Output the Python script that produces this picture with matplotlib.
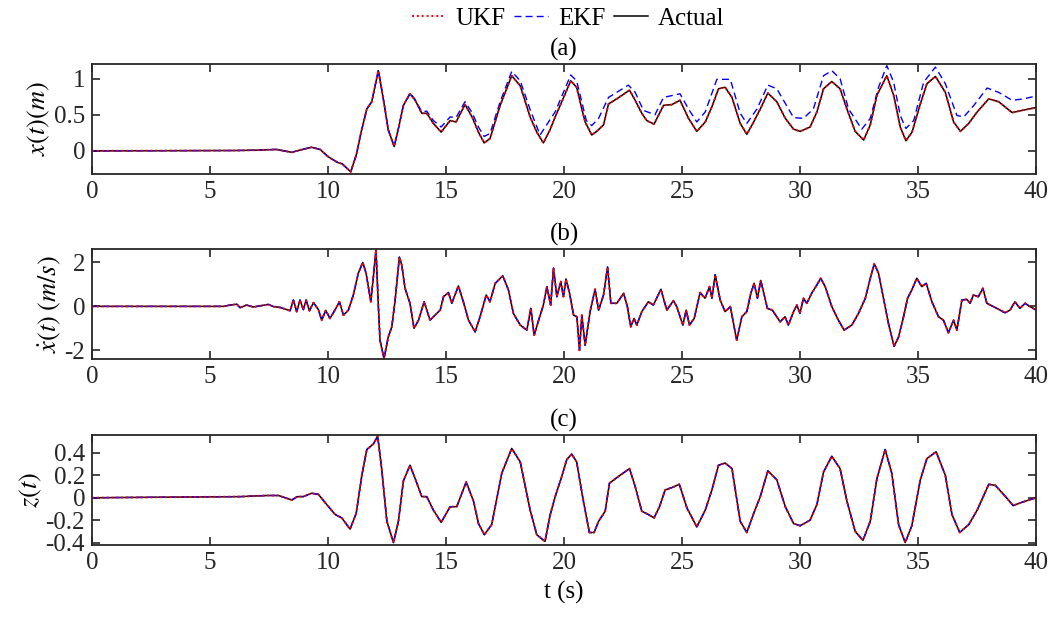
import numpy as np
import matplotlib
matplotlib.use("Agg")
import matplotlib.pyplot as plt

# ---- data ----
# (a) displacement x(t): actual / UKF follow the same trace
t_x = [0, 6.1, 7.0, 7.8, 8.46, 8.8, 9.3, 9.66, 10.0, 10.4, 10.6, 10.96, 11.2, 11.4,
       11.64, 11.85, 12.13, 12.34, 12.55, 12.8, 12.98, 13.19, 13.47, 13.69, 13.97,
       14.18, 14.46, 14.79, 15.17, 15.42, 15.8, 16.1, 16.37, 16.61, 16.86, 17.29,
       17.78, 18.14, 18.56, 18.84, 19.12, 19.4, 19.62, 19.9, 20.28, 20.53, 20.75,
       20.89, 21.17, 21.38, 21.67, 21.88, 22.23, 22.77, 23.01, 23.29, 23.5, 23.81,
       24.21, 24.56, 24.91, 25.27, 25.62, 25.98, 26.26, 26.54, 26.82, 27.11, 27.46,
       27.74, 28.03, 28.31, 28.63, 29.01, 29.37, 29.72, 30.0, 30.42, 30.71, 30.99,
       31.34, 31.69, 31.98, 32.33, 32.69, 32.97, 33.25, 33.67, 33.96, 34.24, 34.48,
       34.74, 35.09, 35.37, 35.73, 36.15, 36.5, 36.79, 37.14, 37.5, 37.99, 38.41,
       38.98, 39.4, 40.0]
x_actual = [0, 0.005, 0.01, 0.02, -0.02, 0.01, 0.05, 0.02, -0.08, -0.16, -0.18, -0.29,
            -0.05, 0.26, 0.58, 0.68, 1.11, 0.72, 0.29, 0.06, 0.31, 0.63, 0.79, 0.70,
            0.52, 0.52, 0.38, 0.26, 0.42, 0.40, 0.64, 0.47, 0.26, 0.11, 0.17, 0.63,
            1.04, 0.90, 0.47, 0.26, 0.11, 0.29, 0.47, 0.68, 0.97, 0.88, 0.58, 0.40,
            0.22, 0.27, 0.36, 0.65, 0.72, 0.84, 0.70, 0.52, 0.42, 0.37, 0.63, 0.64,
            0.70, 0.45, 0.27, 0.40, 0.61, 0.86, 0.88, 0.74, 0.38, 0.23, 0.40, 0.58,
            0.80, 0.68, 0.45, 0.30, 0.27, 0.33, 0.54, 0.86, 0.96, 0.86, 0.58, 0.27,
            0.15, 0.36, 0.77, 1.04, 0.77, 0.33, 0.14, 0.26, 0.65, 0.93, 1.03, 0.81,
            0.40, 0.27, 0.38, 0.54, 0.72, 0.68, 0.53, 0.56, 0.60]
x_ukf = x_actual

t_x_ekf = [0, 6.1, 7.0, 7.8, 8.46, 8.8, 9.3, 9.66, 10.0, 10.4, 10.6, 10.96, 11.2, 11.4,
           11.64, 11.85, 12.13, 12.34, 12.55, 12.8, 12.98, 13.19, 13.47, 13.69, 13.97,
           14.18, 14.46, 14.79, 15.17, 15.42, 15.8, 16.1, 16.37, 16.61, 16.86, 17.29,
           17.78, 18.14, 18.56, 18.98, 19.62, 20.28, 20.53, 20.94, 21.17, 21.46, 21.88,
           22.23, 22.72, 23.01, 23.36, 23.85, 24.21, 24.91, 25.27, 25.62, 25.98, 26.47,
           27.04, 27.46, 27.74, 28.17, 28.63, 29.01, 29.72, 30.14, 30.56, 30.99, 31.34,
           31.69, 32.05, 32.61, 32.97, 33.32, 33.67, 33.96, 34.24, 34.48, 34.81, 35.23,
           35.73, 36.15, 36.64, 36.93, 37.36, 37.92, 38.41, 38.98, 39.47, 40.0]
x_ekf = [0, 0.005, 0.01, 0.02, -0.02, 0.01, 0.05, 0.02, -0.08, -0.16, -0.18, -0.29,
         -0.05, 0.26, 0.58, 0.68, 1.12, 0.72, 0.29, 0.06, 0.31, 0.63, 0.80, 0.71,
         0.54, 0.55, 0.42, 0.33, 0.47, 0.46, 0.68, 0.53, 0.33, 0.20, 0.24, 0.68,
         1.10, 0.97, 0.57, 0.22, 0.54, 1.05, 0.97, 0.42, 0.35, 0.45, 0.74, 0.81,
         0.91, 0.81, 0.56, 0.50, 0.74, 0.79, 0.58, 0.40, 0.54, 0.99, 0.99, 0.52,
         0.38, 0.58, 0.91, 0.86, 0.46, 0.45, 0.58, 1.04, 1.11, 1.00, 0.58, 0.30,
         0.45, 0.88, 1.18, 0.95, 0.49, 0.31, 0.42, 0.95, 1.16, 0.93, 0.49, 0.47,
         0.63, 0.87, 0.81, 0.70, 0.72, 0.76]

# (b) velocity x_dot(t): all three estimates coincide
t_v = [0, 5.57, 5.8, 6.13, 6.27, 6.55, 6.83, 7.2, 7.47, 7.68, 7.97, 8.18, 8.39, 8.53,
       8.67, 8.81, 8.95, 9.07, 9.21, 9.38, 9.59, 9.73, 9.9, 10.08, 10.3, 10.48, 10.65,
       10.86, 11.07, 11.28, 11.47, 11.61, 11.81, 11.92, 12.03, 12.13, 12.2, 12.37,
       12.55, 12.7, 12.84, 13.02, 13.12, 13.26, 13.47, 13.64, 13.83, 14.07, 14.32,
       14.53, 14.75, 14.89, 15.1, 15.24, 15.52, 15.73, 15.95, 16.23, 16.44, 16.7,
       16.86, 17.08, 17.4, 17.64, 17.85, 18.14, 18.42, 18.59, 18.73, 18.92, 19.12,
       19.27, 19.43, 19.55, 19.69, 19.86, 19.97, 20.08, 20.23, 20.4, 20.54, 20.65,
       20.75, 20.89, 21.1, 21.31, 21.46, 21.67, 21.84, 21.98, 22.23, 22.38, 22.52,
       22.68, 22.82, 22.96, 23.08, 23.29, 23.57, 23.78, 24.1, 24.35, 24.63, 24.77,
       25.03, 25.17, 25.31, 25.51, 25.76, 25.97, 26.16, 26.26, 26.4, 26.61, 26.82,
       27.04, 27.31, 27.53, 27.74, 27.91, 28.05, 28.19, 28.33, 28.61, 28.82, 29.15,
       29.36, 29.5, 29.72, 29.86, 29.99, 30.14, 30.28, 30.49, 30.71, 30.87, 31.06,
       31.34, 31.62, 31.86, 32.19, 32.47, 32.76, 32.97, 33.14, 33.32, 33.53, 33.74,
       33.98, 34.17, 34.38, 34.55, 34.73, 34.94, 35.15, 35.34, 35.58, 35.86, 36.07,
       36.28, 36.5, 36.64, 36.85, 37.06, 37.2, 37.34, 37.55, 37.74, 37.91, 38.33,
       38.68, 38.89, 39.1, 39.31, 39.53, 39.74, 40.0]
v_actual = [0, 0, 0.05, 0.10, -0.06, 0.06, -0.03, 0.04, 0.09, -0.01, -0.05, -0.12,
            -0.20, 0.29, -0.24, 0.29, -0.15, 0.29, -0.20, 0.17, -0.15, -0.63, -0.18,
            -0.55, -0.15, 0.21, -0.40, -0.17, 0.52, 1.51, 2.00, 1.51, 0.21, 1.36,
            2.58, 0.00, -1.54, -2.38, -1.39, -0.93, 0.29, 2.24, 1.89, 0.82, 0.14,
            -1.00, -0.63, 0.21, -0.63, -0.40, -0.17, 0.44, 0.63, 0.14, 0.93, 0.21,
            -0.63, -1.16, -0.47, 0.52, 0.21, 1.05, 1.39, 0.75, -0.32, -0.85, -1.08,
            -0.09, -1.31, -0.63, 0.06, 0.90, 0.06, 1.74, 0.44, 1.13, 0.44, 1.24, 0.60,
            -0.40, -0.47, -2.00, -0.40, -1.77, -0.24, 0.78, -0.17, 0.52, 1.79, 0.14,
            0.14, 0.37, 0.60, -0.01, -0.93, -0.55, -0.85, -0.24, 0.21, 0.06, 0.78,
            -0.17, 0.26, -0.01, -0.85, -0.17, -0.85, -0.55, 0.63, 0.37, 0.90, 0.37,
            1.44, 0.29, -0.24, -0.01, -1.54, -0.47, -0.24, 0.60, 1.05, 0.37, 1.18,
            -0.09, -0.17, -0.70, -0.47, -0.85, -0.24, 0.06, -0.32, 0.37, 0.14, 0.60,
            0.98, 1.28, 0.90, -0.01, -0.63, -1.08, -0.85, -0.32, 0.37, 1.28, 1.94,
            1.51, 0.37, -0.78, -1.82, -1.39, -0.47, 0.37, 0.75, 1.28, 0.90, 1.05,
            0.21, -0.47, -0.63, -1.20, -0.63, -1.08, 0.29, 0.32, 0.14, 0.52, 0.44,
            0.82, 0.14, -0.09, -0.29, -0.17, 0.21, -0.09, 0.14, -0.01, -0.17]
v_ukf = v_actual
v_ekf = v_actual

# (c) z(t): all three estimates coincide
t_z = [0, 6.27, 7.4, 7.9, 8.46, 8.7, 8.95, 9.3, 9.59, 9.94, 10.3, 10.58, 10.93, 11.19,
       11.43, 11.64, 11.92, 12.1, 12.27, 12.49, 12.77, 12.98, 13.19, 13.47, 13.69,
       13.97, 14.18, 14.46, 14.79, 15.17, 15.45, 15.85, 16.16, 16.37, 16.62, 16.93,
       17.36, 17.78, 18.14, 18.56, 18.84, 19.19, 19.4, 19.62, 19.9, 20.11, 20.32,
       20.53, 20.79, 21.07, 21.27, 21.46, 21.74, 21.92, 22.3, 22.77, 23.01, 23.29,
       23.57, 23.81, 24.04, 24.28, 24.56, 24.88, 25.2, 25.62, 25.98, 26.26, 26.54,
       26.82, 27.11, 27.46, 27.74, 28.03, 28.31, 28.63, 29.01, 29.37, 29.72, 30.0,
       30.42, 30.71, 30.99, 31.34, 31.69, 31.98, 32.33, 32.66, 32.97, 33.25, 33.6,
       33.88, 34.17, 34.45, 34.73, 35.09, 35.37, 35.76, 36.15, 36.43, 36.76, 37.14,
       37.5, 37.99, 38.27, 38.7, 39.02, 39.4, 40.0]
z_actual = [0, 0.01, 0.02, 0.02, -0.02, 0.01, 0.01, 0.04, 0.03, -0.06, -0.15, -0.18,
            -0.28, -0.14, 0.20, 0.43, 0.48, 0.55, 0.26, -0.21, -0.40, -0.21, 0.15,
            0.29, 0.17, 0.01, 0.01, -0.11, -0.22, -0.08, -0.08, 0.14, -0.03, -0.23,
            -0.33, -0.24, 0.22, 0.44, 0.32, -0.11, -0.33, -0.39, -0.16, 0.01, 0.19,
            0.34, 0.39, 0.32, 0.00, -0.31, -0.31, -0.21, -0.12, 0.13, 0.19, 0.26,
            0.10, -0.12, -0.15, -0.18, -0.08, 0.07, 0.09, 0.12, -0.09, -0.26, -0.11,
            0.07, 0.29, 0.31, 0.26, -0.21, -0.31, -0.14, 0.01, 0.24, 0.16, -0.08,
            -0.23, -0.25, -0.20, -0.06, 0.23, 0.37, 0.26, -0.03, -0.30, -0.38, -0.21,
            0.17, 0.43, 0.22, -0.24, -0.40, -0.25, 0.16, 0.35, 0.41, 0.20, -0.15,
            -0.31, -0.24, -0.11, 0.12, 0.11, 0.01, -0.07, -0.04, 0.00]
z_ukf = z_actual
z_ekf = z_actual

panel_titles = ["(a)", "(b)", "(c)"]
y_labels = [r"$x(t)(m)$", r"$\dot{x}(t)\;(m/s)$", r"$z(t)$"]

# ---- styling ----
plt.rcParams["font.family"] = ["Liberation Serif", "DejaVu Serif"]
plt.rcParams["mathtext.fontset"] = "stix"
plt.rcParams["font.size"] = 18

fig = plt.figure(figsize=(10.52, 6.17), dpi=100)
left, width, height = 0.0875, 0.8975, 0.178
bottoms = [0.718, 0.418, 0.117]

panels = [
    (t_x, x_ukf, t_x_ekf, x_ekf, x_actual, (-0.32, 1.2), [0, 0.5, 1], ["0", "0.5", "1"]),
    (t_v, v_ukf, t_v, v_ekf, v_actual, (-2.4, 2.6), [-2, 0, 2], ["-2", "0", "2"]),
    (t_z, z_ukf, t_z, z_ekf, z_actual, (-0.42, 0.56),
     [-0.4, -0.2, 0, 0.2, 0.4], ["-0.4", "-0.2", "0", "0.2", "0.4"]),
]

axes = []
for i, (tt, ukf, te, ekf, act, ylim, yt, ytl) in enumerate(panels):
    ax = fig.add_axes([left, bottoms[i], width, height])
    h_act, = ax.plot(tt, act, color="black", lw=1.1, label="Actual")
    h_ekf, = ax.plot(te, ekf, color="blue", ls=(0, (5, 3)), lw=1.0, label="EKF")
    h_ukf, = ax.plot(tt, ukf, color="red", ls=(0, (1, 1.5)), lw=1.4, label="UKF")
    ax.set_xlim(0, 40)
    ax.set_ylim(*ylim)
    ax.set_xticks(np.arange(0, 41, 5))
    ax.set_yticks(yt)
    ax.set_yticklabels(ytl)
    ax.tick_params(direction="in", top=True, right=True, length=6, width=1.2,
                   pad=5, colors="#262626", labelcolor="#262626", labelsize=18)
    for s in ax.spines.values():
        s.set_linewidth(1.3)
        s.set_color("#262626")
    ax.set_ylabel(y_labels[i], fontsize=19, labelpad=1)
    ax.set_title(panel_titles[i], fontsize=18, pad=6)
    axes.append(ax)

axes[-1].set_xlabel("t (s)", fontsize=18, labelpad=5)

fig.legend([h_ukf, h_ekf, h_act], ["UKF", "EKF", "Actual"], loc="upper center",
           bbox_to_anchor=(0.54, 1.025), ncol=3, frameon=False, fontsize=18,
           handlelength=1.35, columnspacing=0.35, handletextpad=0.4)

fig.savefig("out.png", dpi=100)
